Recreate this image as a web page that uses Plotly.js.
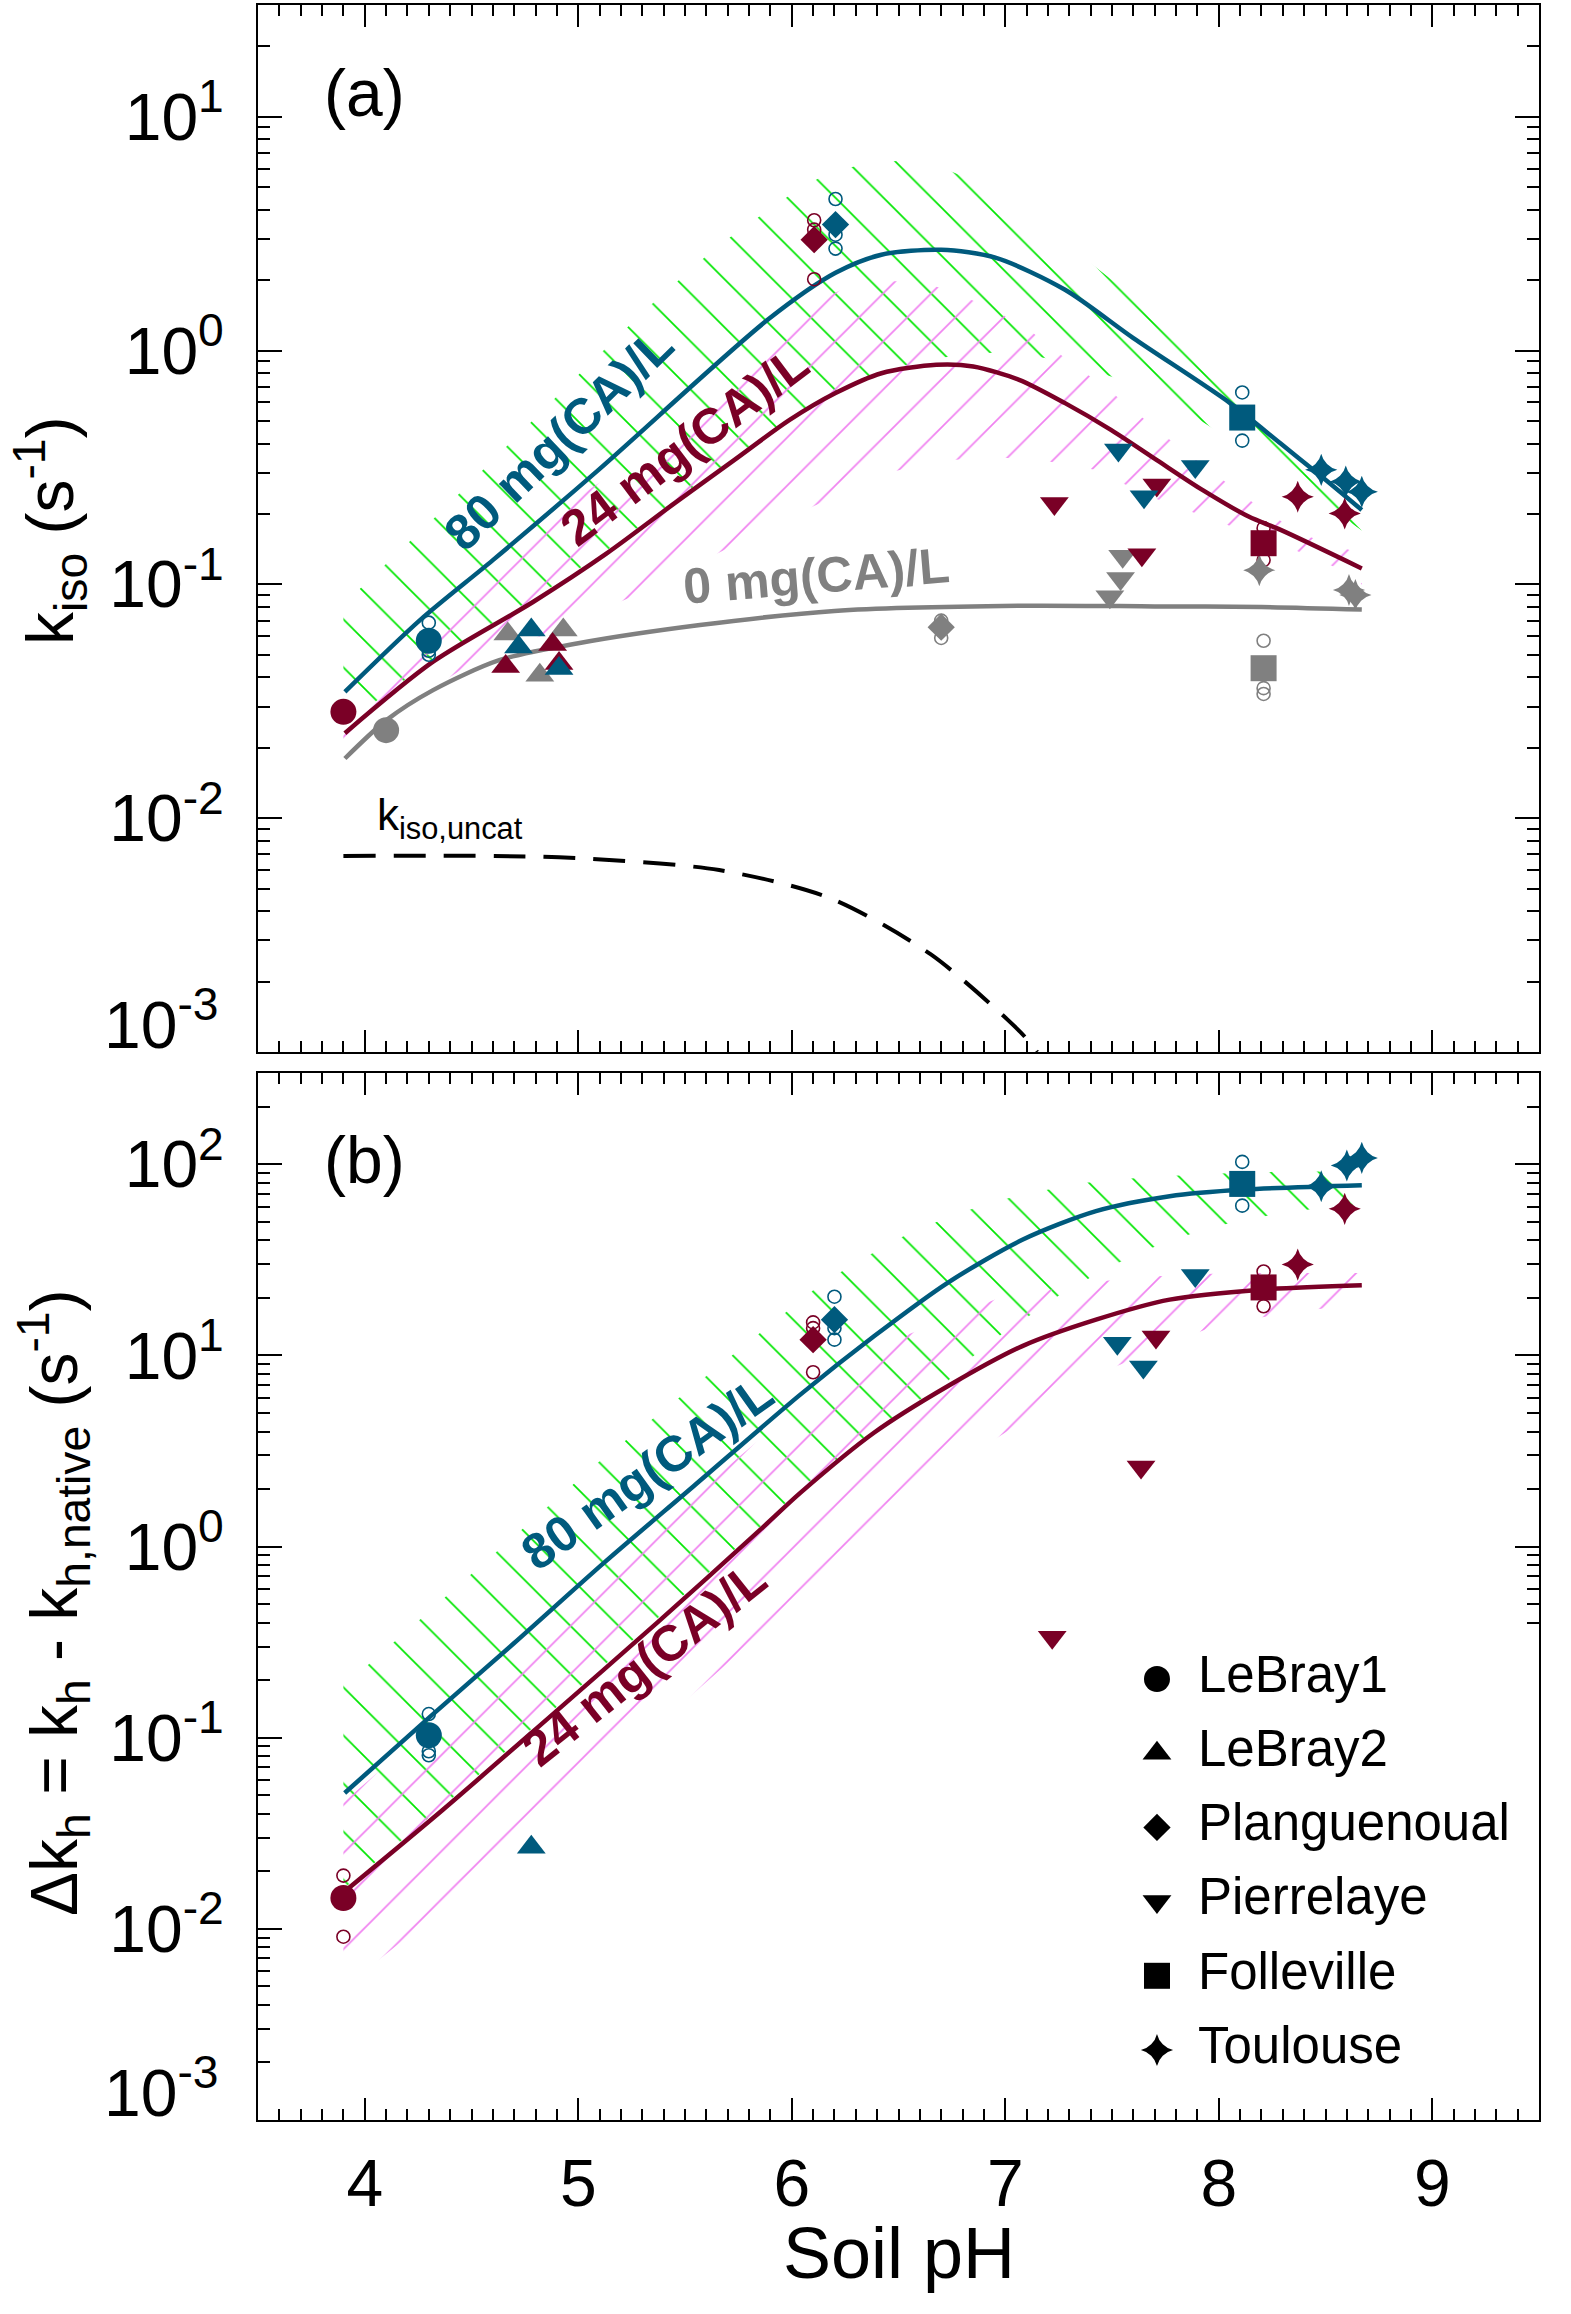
<!DOCTYPE html>
<html>
<head>
<meta charset="utf-8">
<script src="https://cdn.plot.ly/plotly-3.0.1.min.js"></script>
<style>html,body{margin:0;padding:0;background:#fff}</style>
</head>
<body>
<div id="chart" style="width:1571px;height:2314px"></div>
<script>
// colours of the three CA doses and of the two hatched bands
const BLUE = 'rgb(0,90,125)', MAROON = 'rgb(122,0,38)', GRAY = 'rgb(128,128,128)';
const GREEN = 'rgb(0,230,0)', PINK = 'rgb(240,130,240)';

const soils = ['LeBray1', 'LeBray2', 'Planguenoual', 'Pierrelaye', 'Folleville', 'Toulouse'];
const soilSymbols = ['circle', 'triangle-up', 'diamond', 'triangle-down', 'square', 'star-diamond'];
const soilSizes = [26, 25, 21, 25, 26, 23];

// ---------- panel (a): k_iso ----------
const curveA80_ph = [3.907, 4.26, 4.6, 5.095, 5.89, 6.205, 6.42, 6.70, 6.957, 7.28, 7.60, 8.053, 8.29, 8.48, 8.67];
const curveA80_k = [0.0347, 0.0705, 0.127, 0.309, 1.36, 2.15, 2.57, 2.70, 2.49, 1.82, 1.13, 0.596, 0.40, 0.29, 0.208];
const curveA24_ph = [3.907, 4.32, 4.79, 5.13, 5.45, 5.73, 5.99, 6.205, 6.42, 6.677, 6.85, 7.065, 7.28, 7.495, 7.71, 7.925, 8.14, 8.29, 8.67];
const curveA24_k = [0.0231, 0.0467, 0.0843, 0.135, 0.222, 0.34, 0.505, 0.658, 0.80, 0.869, 0.855, 0.75, 0.596, 0.458, 0.34, 0.253, 0.195, 0.171, 0.117];
const curveA0_ph = [3.907, 4.10, 4.32, 4.63, 5.0, 5.57, 6.2, 7.07, 7.7, 8.2, 8.67];
const curveA0_k = [0.018, 0.0262, 0.0353, 0.0474, 0.056, 0.067, 0.077, 0.081, 0.0805, 0.080, 0.078];
const uncat_ph = [3.9, 4.91, 5.66, 6.18, 6.65, 7.07, 7.15];
const uncat_k = [0.0069, 0.0068, 0.0060, 0.00455, 0.00262, 0.00122, 0.001];

// hatched bands: upper edge (left to right) then lower edge (right to left)
const bandA80_ph = [3.9, 4.37, 5.0, 5.32, 5.65, 6.02, 6.12, 6.23, 6.36, 6.51, 6.70, 6.97, 7.74, 8.2, 8.67,
  8.67, 8.25, 7.83, 7.52, 7.29, 7.10, 6.94, 6.79, 6.65, 6.42, 6.205, 5.99, 5.73, 5.45, 5.13, 4.79, 4.32, 3.9];
const bandA80_k = [0.082, 0.21, 0.787, 1.51, 2.79, 4.83, 5.42, 5.94, 6.35, 6.49, 6.08, 4.79, 1.35, 0.52, 0.20,
  0.17, 0.32, 0.562, 0.762, 0.893, 0.96, 0.98, 0.96, 0.914, 0.82, 0.67, 0.515, 0.35, 0.228, 0.139, 0.087, 0.048, 0.025];
const bandA24_ph = [3.9, 4.3, 4.91, 5.24, 5.56, 5.925, 6.248, 6.42, 6.59, 6.717, 6.935, 7.13, 7.30, 7.485, 7.656, 7.83, 8.01, 8.194, 8.395, 8.67,
  8.67, 8.54, 8.32, 7.68, 7.42, 7.16, 7.01, 6.86, 6.68, 6.47, 6.23, 5.90, 5.27, 5.0, 4.45, 4.06, 3.9];
const bandA24_k = [0.031, 0.062, 0.21, 0.33, 0.6, 1.31, 1.85, 1.98, 1.98, 1.83, 1.52, 1.19, 0.898, 0.679, 0.505, 0.376, 0.284, 0.212, 0.163, 0.135,
  0.10, 0.119, 0.145, 0.237, 0.309, 0.341, 0.347, 0.347, 0.335, 0.303, 0.245, 0.177, 0.090, 0.0705, 0.043, 0.0254, 0.021];

// measured means, one list per CA dose
const a80_soil = ['LeBray1', 'LeBray2', 'LeBray2', 'LeBray2', 'Planguenoual', 'Pierrelaye', 'Pierrelaye', 'Pierrelaye', 'Folleville', 'Toulouse', 'Toulouse', 'Toulouse'];
const a80_ph = [4.30, 4.78, 4.72, 4.91, 6.205, 7.53, 7.89, 7.65, 8.11, 8.48, 8.595, 8.67];
const a80_k = [0.0574, 0.0638, 0.054, 0.0437, 3.46, 0.376, 0.319, 0.237, 0.517, 0.309, 0.275, 0.249];
const a24_soil = ['LeBray1', 'LeBray2', 'LeBray2', 'LeBray2', 'Planguenoual', 'Pierrelaye', 'Pierrelaye', 'Pierrelaye', 'Folleville', 'Toulouse', 'Toulouse'];
const a24_ph = [3.90, 4.88, 4.66, 4.91, 6.105, 7.71, 7.23, 7.64, 8.21, 8.37, 8.59];
const a24_k = [0.0285, 0.0553, 0.0445, 0.0459, 2.98, 0.266, 0.222, 0.134, 0.150, 0.237, 0.201];
const a0_soil = ['LeBray1', 'LeBray2', 'LeBray2', 'LeBray2', 'Planguenoual', 'Pierrelaye', 'Pierrelaye', 'Pierrelaye', 'Folleville', 'Toulouse', 'Toulouse', 'Toulouse'];
const a0_ph = [4.10, 4.67, 4.93, 4.82, 6.70, 7.55, 7.54, 7.49, 8.21, 8.19, 8.61, 8.64];
const a0_k = [0.0238, 0.0613, 0.0638, 0.0409, 0.0656, 0.132, 0.106, 0.0886, 0.0438, 0.115, 0.0946, 0.090];

// replicates (open circles)
const a80_rep_ph = [4.30, 4.30, 4.30, 6.205, 6.205, 6.205, 8.11, 8.11, 8.48, 8.595, 8.67];
const a80_rep_k = [0.0686, 0.052, 0.050, 4.45, 3.13, 2.73, 0.662, 0.412, 0.309, 0.275, 0.249];
const a24_rep_ph = [6.105, 6.105, 6.105, 8.21, 8.21, 8.37, 8.59];
const a24_rep_k = [3.61, 3.29, 2.02, 0.174, 0.127, 0.237, 0.201];
const a0_rep_ph = [6.70, 6.70, 8.21, 8.21, 8.21, 8.19, 8.61, 8.64];
const a0_rep_k = [0.070, 0.059, 0.0574, 0.036, 0.034, 0.115, 0.0946, 0.090];

// ---------- panel (b): delta k_h ----------
const curveB80_ph = [3.906, 4.30, 4.70, 5.12, 5.54, 6.04, 6.385, 6.73, 7.08, 7.425, 7.77, 8.12, 8.67];
const curveB80_dk = [0.0514, 0.127, 0.313, 0.822, 2.07, 6.24, 12.6, 24, 40.3, 56.9, 68.1, 73.8, 77.8];
const curveB24_ph = [3.9, 4.366, 4.868, 5.37, 5.871, 6.04, 6.385, 6.73, 7.08, 7.425, 7.77, 8.20, 8.67];
const curveB24_dk = [0.0155, 0.042, 0.129, 0.40, 1.28, 1.91, 3.94, 6.9, 11.2, 15.4, 19.6, 22.1, 23.3];

const bandB80_ph = [3.9, 4.01, 4.09, 4.18, 4.43, 4.68, 4.93, 5.09, 5.6, 6.134, 6.23, 6.33, 6.43, 6.53, 6.64, 6.75, 6.87, 6.99, 7.12, 7.25, 7.38, 7.525, 7.67, 7.815, 7.97, 8.27, 8.67,
  8.67, 8.447, 8.31, 8.174, 8.045, 7.92, 7.80, 7.685, 7.577, 7.473, 7.37, 7.27, 7.18, 7.087, 6.99, 6.905, 6.81, 6.73, 6.385, 6.04, 5.871, 5.37, 4.868, 4.366, 3.9];
const bandB80_dk = [0.19, 0.237, 0.287, 0.347, 0.615, 1.08, 1.91, 2.74, 7.8, 23.5, 27.3, 32, 37, 42.4, 47.8, 54, 59.7, 65.5, 71, 75.4, 80, 83.2, 85.7, 87.3, 89.2, 91.4, 92,
  62, 58.5, 55.7, 52.5, 49, 45.2, 40.7, 36.5, 32.4, 28.4, 24.5, 21.3, 18.1, 15.4, 13.1, 11, 9.2, 7.3, 4.1, 2.0, 1.33, 0.42, 0.135, 0.044, 0.0162];
const bandB24_ph = [3.9, 4.30, 4.70, 5.12, 5.54, 6.04, 6.47, 6.99, 7.18, 7.37, 7.71, 8.05, 8.67,
  8.67, 8.51, 8.33, 8.14, 7.94, 7.39, 6.95, 6.09, 4.73, 3.9];
const bandB24_dk = [0.046, 0.112, 0.28, 0.73, 1.85, 5.5, 11.9, 20.4, 21.7, 24, 26, 27, 27,
  19, 17.7, 16.8, 15.4, 13.7, 7.64, 3.63, 0.596, 0.027, 0.0049];

const b80_soil = ['LeBray1', 'LeBray2', 'Planguenoual', 'Pierrelaye', 'Pierrelaye', 'Pierrelaye', 'Folleville', 'Toulouse', 'Toulouse', 'Toulouse'];
const b80_ph = [4.30, 4.78, 6.20, 7.89, 7.525, 7.647, 8.11, 8.48, 8.60, 8.67];
const b80_dk = [0.103, 0.0267, 15.4, 26.2, 11.6, 8.7, 79, 76.8, 98.6, 108];
const b24_soil = ['LeBray1', 'Planguenoual', 'Pierrelaye', 'Pierrelaye', 'Pierrelaye', 'Folleville', 'Toulouse', 'Toulouse'];
const b24_ph = [3.90, 6.10, 7.706, 7.636, 7.22, 8.21, 8.37, 8.59];
const b24_dk = [0.0145, 12.1, 12.5, 2.61, 0.336, 22.7, 29.9, 58.5];

const b80_rep_ph = [4.30, 4.30, 4.30, 6.20, 6.20, 6.20, 8.11, 8.11, 8.48, 8.60, 8.67];
const b80_rep_dk = [0.133, 0.085, 0.081, 20.3, 13.9, 12.1, 103, 60.8, 76.8, 98.6, 108];
const b24_rep_ph = [3.90, 3.90, 6.10, 6.10, 6.10, 8.21, 8.21, 8.37, 8.59];
const b24_rep_dk = [0.019, 0.0091, 14.9, 13.9, 8.17, 27.5, 18.1, 29.9, 58.5];

// log tick labels (the 10^-3 label sits on the axis line, so it is drawn separately)
const tickValsA = [0.001, 0.01, 0.1, 1, 10];
const tickTextA = ['', '10<sup>-2</sup>', '10<sup>-1</sup>', '10<sup>0</sup>', '10<sup>1</sup>'];
const tickValsB = [0.001, 0.01, 0.1, 1, 10, 100];
const tickTextB = ['', '10<sup>-2</sup>', '10<sup>-1</sup>', '10<sup>0</sup>', '10<sup>1</sup>', '10<sup>2</sup>'];
const bottomLabel = '10<sup>-3</sup>';


function band(x, y, xa, ya, shape, color) {
    return {
        x: x, y: y, xaxis: xa, yaxis: ya, mode: 'lines', fill: 'toself',
        fillcolor: 'rgba(0,0,0,0)', line: {width: 0, color: 'rgba(0,0,0,0)'},
        fillpattern: {shape: shape, fgcolor: color, bgcolor: 'rgba(0,0,0,0)', size: 34, solidity: 0.05},
        hoverinfo: 'skip', showlegend: false
    };
}

function curve(x, y, xa, ya, color, dash) {
    return {
        x: x, y: y, xaxis: xa, yaxis: ya, mode: 'lines',
        line: {color: color, width: dash ? 4 : 4.5, shape: 'spline', smoothing: 0.8, dash: dash || 'solid'},
        showlegend: false
    };
}

function symbolsOf(soil) { return soil.map(s => soilSymbols[soils.indexOf(s)]); }
function sizesOf(soil) { return soil.map(s => soilSizes[soils.indexOf(s)]); }

function means(soil, x, y, xa, ya, color) {
    return {
        x: x, y: y, xaxis: xa, yaxis: ya, mode: 'markers',
        marker: {color: color, opacity: 1, symbol: symbolsOf(soil), size: sizesOf(soil), line: {width: 0}},
        cliponaxis: false, showlegend: false
    };
}

function reps(x, y, xa, ya, color) {
    return {
        x: x, y: y, xaxis: xa, yaxis: ya, mode: 'markers',
        marker: {symbol: 'circle-open', size: 13, opacity: 1, color: color, line: {width: 1.6, color: color}},
        showlegend: false
    };
}

let data = [
    band(bandA80_ph, bandA80_k, 'x', 'y', '\\', GREEN),
    band(bandA24_ph, bandA24_k, 'x', 'y', '/', PINK),
    band(bandB80_ph, bandB80_dk, 'x2', 'y2', '\\', GREEN),
    band(bandB24_ph, bandB24_dk, 'x2', 'y2', '/', PINK),
    curve(uncat_ph, uncat_k, 'x', 'y', 'black', '32px,18px'),
    curve(curveA0_ph, curveA0_k, 'x', 'y', GRAY),
    curve(curveA24_ph, curveA24_k, 'x', 'y', MAROON),
    curve(curveA80_ph, curveA80_k, 'x', 'y', BLUE),
    curve(curveB24_ph, curveB24_dk, 'x2', 'y2', MAROON),
    curve(curveB80_ph, curveB80_dk, 'x2', 'y2', BLUE),
    reps(a0_rep_ph, a0_rep_k, 'x', 'y', GRAY),
    reps(a24_rep_ph, a24_rep_k, 'x', 'y', MAROON),
    reps(a80_rep_ph, a80_rep_k, 'x', 'y', BLUE),
    reps(b24_rep_ph, b24_rep_dk, 'x2', 'y2', MAROON),
    reps(b80_rep_ph, b80_rep_dk, 'x2', 'y2', BLUE),
    means(a0_soil, a0_ph, a0_k, 'x', 'y', GRAY),
    means(a24_soil, a24_ph, a24_k, 'x', 'y', MAROON),
    means(a80_soil, a80_ph, a80_k, 'x', 'y', BLUE),
    means(b24_soil, b24_ph, b24_dk, 'x2', 'y2', MAROON),
    means(b80_soil, b80_ph, b80_dk, 'x2', 'y2', BLUE),
    // symbol key in panel (b): one row per soil on a hidden category axis
    {
        x: soils.map(() => 0), y: soils, xaxis: 'x3', yaxis: 'y3', mode: 'markers',
        marker: {color: 'black', opacity: 1, symbol: soilSymbols, size: soilSizes, line: {width: 0}},
        cliponaxis: false, showlegend: false
    },
    {
        x: soils.map(() => 1), y: soils, xaxis: 'x3', yaxis: 'y3', mode: 'text',
        text: soils, textposition: 'middle right', textfont: {size: 51, color: 'black'},
        cliponaxis: false, showlegend: false
    }
];

const xaxisBase = {
    range: [3.5, 9.5], tick0: 4, dtick: 1, ticks: 'inside', ticklen: 22, tickwidth: 2, tickcolor: 'black',
    mirror: 'allticks', showline: true, linewidth: 2, linecolor: 'black', showgrid: false, zeroline: false,
    minor: {dtick: 0.1, ticks: 'inside', ticklen: 11, tickwidth: 2, tickcolor: 'black', showgrid: false}
};
const yaxisBase = {
    type: 'log', tickmode: 'array', ticks: 'inside', ticklen: 24, tickwidth: 2, tickcolor: 'black',
    mirror: 'allticks', showline: true, linewidth: 2, linecolor: 'black', showgrid: false, zeroline: false,
    ticklabelstandoff: 19, tickfont: {size: 66},
    minor: {dtick: 'D1', ticks: 'inside', ticklen: 12, tickwidth: 2, tickcolor: 'black', showgrid: false}
};
const hidden = {visible: false, showgrid: false, zeroline: false, fixedrange: true};

const bold = (t) => '<b>' + t + '</b>';
const note = (text, x, y, xref, yref, extra) => Object.assign({text: text, x: x, y: y, xref: xref, yref: yref,
    xanchor: 'center', yanchor: 'middle', showarrow: false}, extra);

const layout = {
    width: 1571, height: 2314,
    margin: {l: 258, r: 32, t: 5, b: 194},
    paper_bgcolor: 'white', plot_bgcolor: 'white',
    font: {family: 'Liberation Sans, Arial, sans-serif', color: 'black', size: 66},
    showlegend: false,
    xaxis: Object.assign({}, xaxisBase, {anchor: 'y', showticklabels: false}),
    yaxis: Object.assign({}, yaxisBase, {domain: [0.50496, 1], anchor: 'x', range: [-3, 1.478], tickvals: tickValsA, ticktext: tickTextA}),
    xaxis2: Object.assign({}, xaxisBase, {anchor: 'y2', showticklabels: true, ticklabelstandoff: 5, tickfont: {size: 66}}),
    yaxis2: Object.assign({}, yaxisBase, {domain: [0, 0.49504], anchor: 'x2', range: [-3, 2.478], tickvals: tickValsB, ticktext: tickTextB}),
    // key axes: marker column at 0, label column at 1 (41 px apart)
    xaxis3: Object.assign({}, hidden, {domain: [0.6807, 1], anchor: 'y3', range: [-27 / 41, 382 / 41]}),
    yaxis3: Object.assign({}, hidden, {domain: [0.01556, 0.22605], anchor: 'x3', type: 'category', range: [5.5, -0.5]}),
    annotations: [
        note('(a)', 4.0, 1.10, 'x', 'y', {font: {size: 66}}),
        note('(b)', 4.0, 2.025, 'x2', 'y2', {font: {size: 66}}),
        note(bold('80 mg(CA)/L'), 4.91, -0.380, 'x', 'y', {textangle: -44, font: {size: 50, color: BLUE}}),
        note(bold('24 mg(CA)/L'), 5.496, -0.406, 'x', 'y', {textangle: -37, font: {size: 50, color: MAROON}}),
        note(bold('0 mg(CA)/L'), 6.114, -0.965, 'x', 'y', {textangle: -4.7, font: {size: 50, color: GRAY}}),
        note('k<sub>iso,uncat</sub>', 4.048, -2.0, 'x', 'y', {xanchor: 'left', font: {size: 44}}),
        note(bold('80 mg(CA)/L'), 5.322, 0.386, 'x2', 'y2', {textangle: -35.5, font: {size: 50, color: BLUE}}),
        note(bold('24 mg(CA)/L'), 5.306, -0.612, 'x2', 'y2', {textangle: -38.5, font: {size: 50, color: MAROON}}),
        note(bottomLabel, -0.0289, -3, 'paper', 'y', {xanchor: 'right', yanchor: 'bottom', yshift: -12, font: {size: 66}}),
        note(bottomLabel, -0.0289, -3, 'paper', 'y2', {xanchor: 'right', yanchor: 'bottom', yshift: -12, font: {size: 66}}),
        note('k<sub>iso</sub> (s<sup>-1</sup>)', -0.1624, 0.7513, 'paper', 'paper', {textangle: -90, font: {size: 66}}),
        note('Δk<sub>h</sub> = k<sub>h</sub> - k<sub>h,native</sub> (s<sup>-1</sup>)', -0.1593, 0.2449, 'paper', 'paper', {textangle: -90, font: {size: 66}}),
        note('Soil pH', 0.5, -0.0629, 'paper', 'paper', {font: {size: 72}})
    ]
};

Plotly.newPlot('chart', data, layout, {displayModeBar: false, staticPlot: true});
</script>
</body>
</html>
